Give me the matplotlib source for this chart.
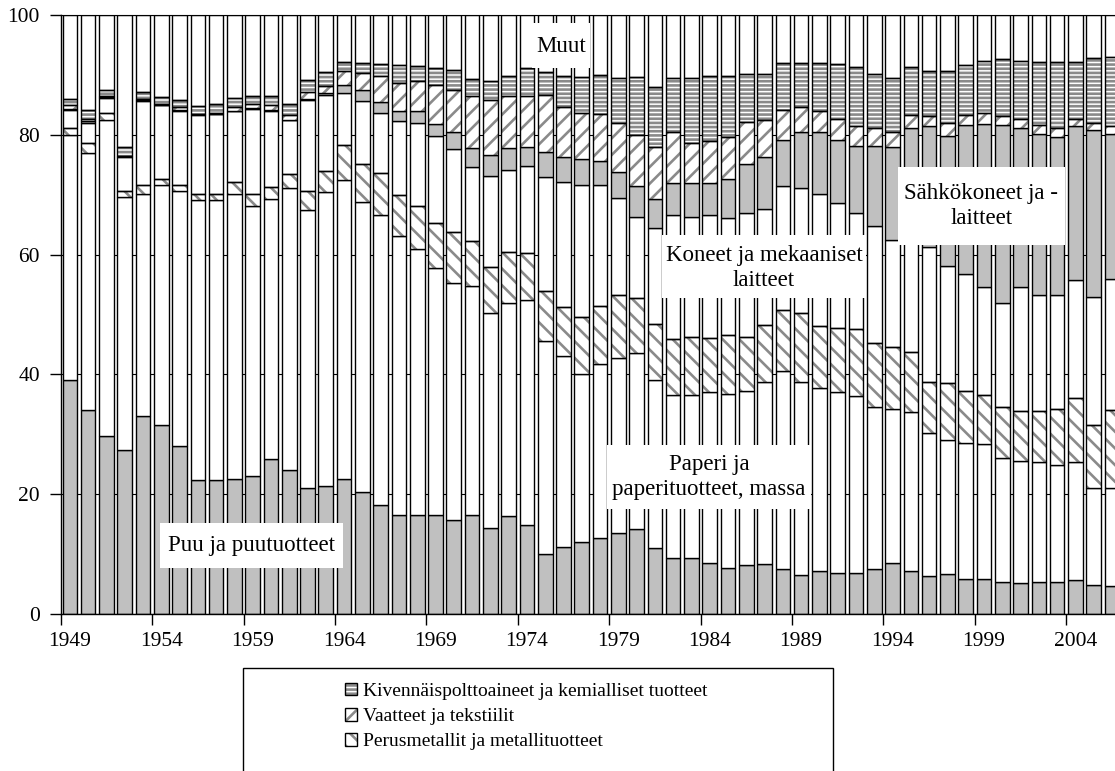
import matplotlib
matplotlib.use("Agg")
import matplotlib.pyplot as plt
from matplotlib.patches import Rectangle
import numpy as np

# ---------------- data (shares of exports, %) ----------------
years = list(range(1949, 2007))

puu = [39.1, 34.1, 29.7, 27.3, 33.1, 31.6, 28.0, 22.4, 22.4, 22.6,
       23.1, 25.8, 24.1, 21.1, 21.3, 22.6, 20.3, 18.2, 16.5, 16.5,
       16.5, 15.7, 16.5, 14.4, 16.4, 14.9, 10.1, 11.2, 12.1, 12.7,
       13.6, 14.2, 11.1, 9.3, 9.3, 8.5, 7.6, 8.1, 8.3, 7.5,
       6.5, 7.1, 6.8, 6.8, 7.5, 8.5, 7.1, 6.3, 6.6, 5.9,
       5.9, 5.4, 5.1, 5.4, 5.4, 5.6, 4.9, 4.7]
paperi = [40.9, 42.8, 52.8, 42.3, 37.1, 40.0, 42.7, 46.7, 46.7, 47.5,
          45.0, 43.5, 47.0, 46.3, 49.1, 49.8, 48.4, 48.4, 46.6, 44.4,
          41.2, 39.6, 38.3, 35.8, 35.5, 37.6, 35.4, 31.8, 28.0, 29.0,
          29.2, 29.4, 27.9, 27.3, 27.3, 28.6, 29.2, 29.2, 30.5, 33.0,
          32.3, 30.6, 30.3, 29.6, 27.0, 25.8, 26.7, 24.0, 22.4, 22.7,
          22.5, 20.6, 20.5, 19.9, 19.4, 19.7, 16.1, 16.3]
metalli = [1.2, 1.7, 1.2, 1.1, 1.4, 1.0, 0.9, 1.1, 1.0, 2.1,
           2.1, 2.0, 2.4, 3.3, 3.6, 5.9, 6.5, 7.1, 6.8, 7.2,
           7.6, 8.4, 7.4, 7.8, 8.6, 7.7, 8.4, 8.2, 9.4, 9.7,
           10.5, 9.2, 9.4, 9.3, 9.7, 8.9, 9.8, 9.0, 9.4, 10.2,
           11.5, 10.3, 10.6, 11.1, 10.8, 10.3, 10.0, 8.5, 9.5, 8.7,
           8.2, 8.5, 8.3, 8.6, 9.5, 10.7, 10.6, 13.1]
koneet = [2.9, 3.4, 2.5, 5.6, 14.1, 12.3, 12.4, 13.1, 13.3, 11.7,
          14.1, 12.7, 8.9, 15.1, 12.6, 8.6, 10.4, 10.0, 12.4, 13.9,
          14.5, 14.0, 12.5, 15.1, 13.6, 14.6, 19.1, 21.0, 22.1, 20.2,
          16.1, 13.4, 16.0, 20.7, 19.9, 20.6, 19.5, 20.7, 19.4, 20.7,
          20.9, 22.1, 20.9, 19.5, 19.4, 17.9, 18.2, 22.5, 19.6, 19.4,
          18.0, 17.5, 20.7, 19.4, 19.0, 19.8, 21.3, 21.8]
sahko = [0.2, 0.3, 0.1, 0.1, 0.1, 0.1, 0.1, 0.1, 0.1, 0.1,
         0.1, 0.1, 0.1, 0.2, 0.3, 1.4, 1.8, 1.8, 1.7, 1.9,
         2.0, 2.7, 3.1, 3.5, 3.7, 3.2, 4.2, 4.1, 4.3, 4.0,
         4.4, 5.2, 4.9, 5.4, 5.8, 5.4, 6.6, 8.2, 8.7, 7.8,
         9.3, 10.3, 10.6, 11.2, 13.5, 15.4, 19.2, 20.2, 21.7, 24.9,
         27.2, 29.6, 26.6, 26.8, 26.3, 25.6, 27.9, 24.3]
vaatteet = [0.6, 0.4, 0.1, 0.1, 0.1, 0.1, 0.5, 0.1, 0.1, 0.7,
            0.7, 0.9, 0.8, 1.2, 1.2, 2.4, 3.0, 4.3, 4.7, 5.1,
            6.5, 7.1, 8.6, 9.2, 8.6, 8.4, 9.4, 8.3, 7.8, 7.9,
            8.2, 8.6, 8.7, 8.4, 6.7, 6.9, 7.0, 7.0, 6.2, 4.9,
            4.2, 3.6, 3.5, 3.2, 2.9, 2.6, 2.1, 1.6, 2.2, 1.7,
            1.8, 1.5, 1.5, 1.5, 1.5, 1.3, 1.1, 1.2]
kemia = [1.1, 1.5, 1.1, 1.5, 1.3, 1.2, 1.2, 1.3, 1.6, 1.4,
         1.4, 1.5, 1.8, 1.9, 2.4, 1.5, 1.6, 2.0, 2.9, 2.5,
         2.8, 3.3, 2.9, 3.1, 3.4, 4.7, 3.9, 5.2, 6.0, 6.5,
         7.4, 9.7, 9.9, 9.0, 10.7, 10.9, 10.1, 7.9, 7.6, 7.9,
         7.3, 8.0, 9.1, 9.9, 9.0, 8.9, 8.1, 7.6, 8.7, 8.3,
         8.8, 9.5, 9.7, 10.6, 11.1, 9.5, 10.9, 11.6]
muut = [14.0, 15.8, 12.5, 22.0, 12.8, 13.7, 14.2, 15.2, 14.8, 13.9,
        13.5, 13.5, 14.9, 10.9, 9.5, 7.8, 8.0, 8.2, 8.4, 8.5,
        8.9, 9.2, 10.7, 11.1, 10.2, 8.9, 9.5, 10.2, 10.3, 10.0,
        10.6, 10.3, 12.1, 10.6, 10.6, 10.2, 10.2, 9.9, 9.9, 8.0,
        8.0, 8.0, 8.2, 8.7, 9.9, 10.6, 8.6, 9.3, 9.3, 8.4,
        7.6, 7.4, 7.6, 7.8, 7.8, 7.8, 7.2, 7.0]

label_kemia = "Kivennäispolttoaineet ja kemialliset tuotteet"
label_vaatteet = "Vaatteet ja tekstiilit"
label_metalli = "Perusmetallit ja metallituotteet"

# ---------------- style ----------------
plt.rcParams['font.family'] = ['Liberation Serif', 'DejaVu Serif']
HATCH_GRAY = '#8a8a8a'
plt.rcParams['hatch.color'] = HATCH_GRAY
plt.rcParams['hatch.linewidth'] = 1.9

W, H = 1115, 771
fig = plt.figure(figsize=(W / 100, H / 100), dpi=100)
ax = fig.add_axes([60.7 / W, 157 / H, 1060.4 / W, 599 / H])

x = np.arange(len(years))
bottom = np.zeros(len(years))
GRAY = '#c0c0c0'
series = [
    ('puu', puu, GRAY, None),
    ('paperi', paperi, 'white', None),
    ('metalli', metalli, 'white', '\\\\'),
    ('koneet', koneet, 'white', None),
    ('sahko', sahko, GRAY, None),
    ('vaatteet', vaatteet, 'white', '//'),
    ('kemia', kemia, 'white', '----'),
    ('muut', muut, 'white', None),
]
handles = {}
bw = 0.8
for name, vals, face, hatch in series:
    vals = np.asarray(vals, dtype=float)
    if hatch:
        hb = ax.bar(x, vals, bw, bottom=bottom, color=face,
                    edgecolor=HATCH_GRAY, hatch=hatch, linewidth=0, zorder=2)
        ob = ax.bar(x, vals, bw, bottom=bottom, fill=False, edgecolor='black',
                    linewidth=1.0, zorder=3)
        handles[name] = (hb, ob)
    else:
        ob = ax.bar(x, vals, bw, bottom=bottom, color=face, edgecolor='black',
                    linewidth=1.0, zorder=2)
        handles[name] = ob
    bottom = bottom + vals

ax.set_xlim(-0.5, len(years) - 0.5)
ax.set_ylim(0, 100)
ax.set_axisbelow(True)
ax.yaxis.grid(True, color='black', linewidth=0.8)
ax.set_yticks(range(0, 101, 20))

ax.set_xticks(np.arange(-0.5, len(years) - 1, 5))
ax.set_xticks(x[::5], labels=[str(y) for y in years[::5]], minor=True)
ax.tick_params(axis='x', which='major', length=8, width=1, direction='out',
               labelbottom=False)
ax.tick_params(axis='x', which='minor', length=0, pad=13, labelsize=15.5)
ax.tick_params(axis='y', length=8, width=1, direction='out', pad=7,
               labelsize=15.5)

ax.spines['right'].set_visible(False)
ax.spines['top'].set_linewidth(0.8)
ax.spines['left'].set_linewidth(1.0)
ax.spines['bottom'].set_linewidth(1.0)


def fx(px):
    return px / W


def fy(py):
    return 1 - py / H


def label_box(x0, y0, x1, y1, text, cy=None):
    fig.add_artist(Rectangle((fx(x0), fy(y1)), (x1 - x0) / W, (y1 - y0) / H,
                             transform=fig.transFigure, facecolor='white',
                             edgecolor='none', zorder=5))
    if cy is None:
        cy = (y0 + y1) / 2
    fig.text(fx((x0 + x1) / 2), fy(cy), text, ha='center', va='center',
             fontsize=16.5, zorder=6, linespacing=1.3, multialignment='center')


label_box(532, 23, 590, 68, "Muut", cy=47)
label_box(662, 235, 866, 298, "Koneet ja mekaaniset\nlaitteet", cy=268)
label_box(898, 167, 1065, 245, "Sähkökoneet ja -\nlaitteet", cy=206)
label_box(607, 445, 811, 509, "Paperi ja\npaperituotteet, massa", cy=477)
label_box(160, 523, 343, 568, "Puu ja puutuotteet", cy=546)

# legend frame (cropped at bottom, as in the original)
fig.add_artist(Rectangle((fx(243), fy(800)), 590 / W, (800 - 668) / H,
                         transform=fig.transFigure, fill=False,
                         edgecolor='black', linewidth=1.0, zorder=5))
fig.legend([handles['kemia'], handles['vaatteet'], handles['metalli']],
           [label_kemia, label_vaatteet, label_metalli],
           loc='upper left', bbox_to_anchor=(fx(345), fy(683)),
           bbox_transform=fig.transFigure, frameon=False, fontsize=14,
           handlelength=0.6, handleheight=0.6, handletextpad=0.35,
           labelspacing=0.42, borderpad=0, borderaxespad=0)

fig.savefig("out.png", dpi=100)
